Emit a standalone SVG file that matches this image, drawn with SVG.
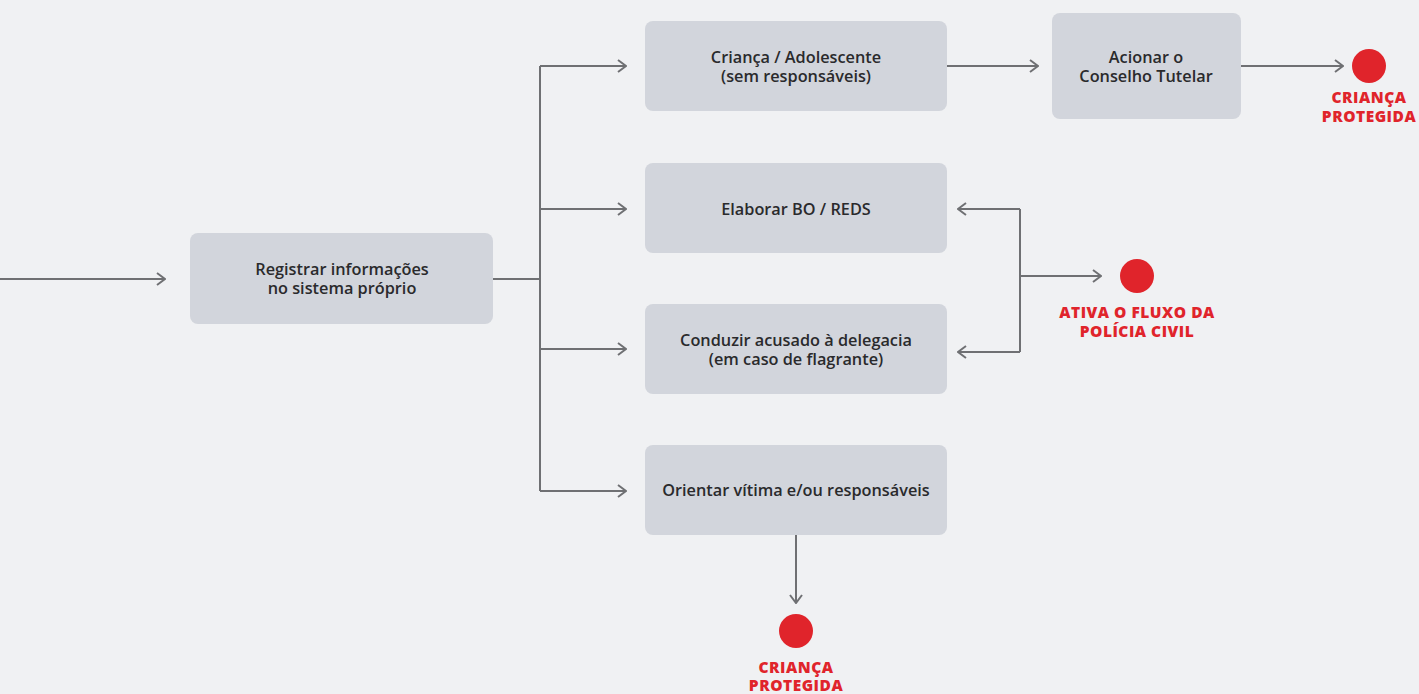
<svg xmlns="http://www.w3.org/2000/svg" width="1419" height="694" viewBox="0 0 1419 694">
<style>
.box{fill:#d2d5dc}
.t{font-family:"Open Sans",sans-serif;font-weight:600;font-size:16.3px;fill:#2a2a2c;text-anchor:middle}
.r{font-family:"Open Sans",sans-serif;font-weight:800;font-size:15.5px;fill:#e0242b;text-anchor:middle;letter-spacing:0.5px}
.dot{fill:#e0242b}
.c{fill:none;stroke:#6f7073;stroke-width:2}
</style>
<defs>
<marker id="a" viewBox="0 0 10 14" refX="9" refY="7" markerWidth="10" markerHeight="14" markerUnits="userSpaceOnUse" orient="auto">
<path d="M1,1 L9,7 L1,13" fill="none" stroke="#6f7073" stroke-width="2"/>
</marker>
</defs>
<rect width="1419" height="694" fill="#f0f1f3"/>
<g id="connectors">
<path class="c" d="M0,279 H165" marker-end="url(#a)"/>
<path class="c" d="M493,279 H540"/>
<path class="c" d="M540,66 V491"/>
<path class="c" d="M540,66 H626" marker-end="url(#a)"/>
<path class="c" d="M540,209 H626" marker-end="url(#a)"/>
<path class="c" d="M540,349 H626" marker-end="url(#a)"/>
<path class="c" d="M540,491 H626" marker-end="url(#a)"/>
<path class="c" d="M947,66 H1038" marker-end="url(#a)"/>
<path class="c" d="M1241,66 H1343" marker-end="url(#a)"/>
<path class="c" d="M1020,209 V352"/>
<path class="c" d="M1020,209 H958" marker-end="url(#a)"/>
<path class="c" d="M1020,352 H958" marker-end="url(#a)"/>
<path class="c" d="M1020,276 H1101" marker-end="url(#a)"/>
<path class="c" d="M796,535 V603" marker-end="url(#a)"/>
</g>
<g id="registrar">
<rect class="box" x="190" y="233" width="303" height="91" rx="8"/>
<text class="t" x="342" y="275">Registrar informações</text>
<text class="t" x="342" y="294">no sistema próprio</text>
</g>
<g id="crianca">
<rect class="box" x="645" y="21" width="302" height="90" rx="8"/>
<text class="t" x="796" y="63">Criança / Adolescente</text>
<text class="t" x="796" y="82">(sem responsáveis)</text>
</g>
<g id="acionar">
<rect class="box" x="1052" y="13" width="189" height="106" rx="8"/>
<text class="t" x="1146" y="63">Acionar o</text>
<text class="t" x="1146" y="82">Conselho Tutelar</text>
</g>
<g id="elaborar">
<rect class="box" x="645" y="163" width="302" height="90" rx="8"/>
<text class="t" x="796" y="215">Elaborar BO / REDS</text>
</g>
<g id="conduzir">
<rect class="box" x="645" y="304" width="302" height="90" rx="8"/>
<text class="t" x="796" y="346">Conduzir acusado à delegacia</text>
<text class="t" x="796" y="365">(em caso de flagrante)</text>
</g>
<g id="orientar">
<rect class="box" x="645" y="445" width="302" height="90" rx="8"/>
<text class="t" x="796" y="496">Orientar vítima e/ou responsáveis</text>
</g>
<g id="end1">
<circle class="dot" cx="1369" cy="66" r="17"/>
<text class="r" x="1369" y="103">CRIANÇA</text>
<text class="r" x="1369" y="122">PROTEGIDA</text>
</g>
<g id="end2">
<circle class="dot" cx="1137" cy="276" r="17"/>
<text class="r" x="1137" y="318">ATIVA O FLUXO DA</text>
<text class="r" x="1137" y="337">POLÍCIA CIVIL</text>
</g>
<g id="end3">
<circle class="dot" cx="796" cy="631" r="17"/>
<text class="r" x="796" y="673">CRIANÇA</text>
<text class="r" x="796" y="691">PROTEGIDA</text>
</g>
</svg>
